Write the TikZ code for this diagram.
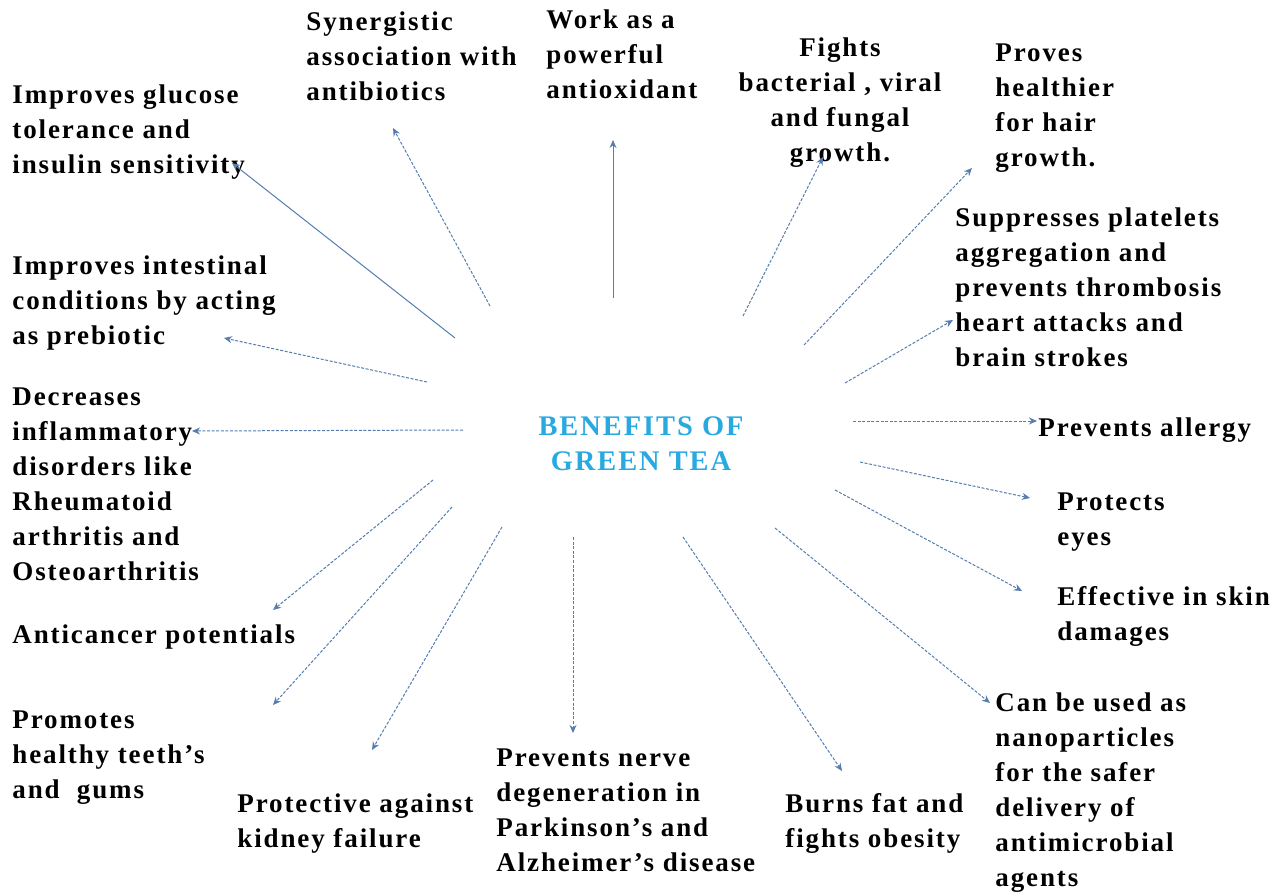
\documentclass[tikz,border=0pt]{standalone}
\usepackage{fontspec}
\setmainfont{Liberation Serif}[LetterSpace=7]
\usetikzlibrary{arrows.meta}
\definecolor{arr}{RGB}{85,125,175}
\definecolor{ttl}{RGB}{40,170,225}
\tikzset{
 lbl/.style={anchor=base west, align=left, inner sep=0pt, font=\fontsize{13.5}{17.5}\selectfont\bfseries},
 link/.style={draw=arr, line width=0.5pt, dash pattern=on 1.5pt off 0.8pt, -{Stealth[length=4pt,width=3.5pt]}},
 solidlink/.style={link, solid}
}
\begin{document}
\begin{tikzpicture}[x=0.5pt,y=-0.5pt]
\useasboundingbox (0,0) rectangle (1284,894);
% anchors are at the baseline of the LAST line of each label
\node[lbl, align=center, anchor=base, text=ttl, font=\fontsize{14.2}{17.5}\selectfont\bfseries] (c) at (641,470) {BENEFITS OF\\GREEN TEA};

\node[lbl] (n1) at (12,173) {Improves glucose\\tolerance and\\insulin sensitivity};
\node[lbl] (n2) at (306,100) {Synergistic\\association with\\antibiotics};
\node[lbl] (n3) at (546,98) {Work as a\\powerful\\antioxidant};
\node[lbl, align=center, anchor=base] (n4) at (840,161) {Fights\\bacterial , viral\\and fungal\\growth.};
\node[lbl] (n5) at (995,166) {Proves\\healthier\\for hair\\growth.};
\node[lbl] (n6) at (955,366) {Suppresses platelets\\aggregation and\\prevents thrombosis\\heart attacks and\\brain strokes};
\node[lbl] (n7) at (1038,436) {Prevents allergy};
\node[lbl] (n8) at (1057,545) {Protects\\eyes};
\node[lbl] (n9) at (1057,640) {Effective in skin\\damages};
\node[lbl] (n10) at (995,886) {Can be used as\\nanoparticles\\for the safer\\delivery of\\antimicrobial\\agents};
\node[lbl] (n11) at (785,847) {Burns fat and\\fights obesity};
\node[lbl] (n12) at (496,871) {Prevents nerve\\degeneration in\\Parkinson's and\\Alzheimer's disease};
\node[lbl] (n13) at (237,847) {Protective against\\kidney failure};
\node[lbl] (n14) at (12,798) {Promotes\\healthy teeth's\\and~~gums};
\node[lbl] (n15) at (12,643) {Anticancer potentials};
\node[lbl] (n16) at (12,580) {Decreases\\inflammatory\\disorders like\\Rheumatoid\\arthritis and\\Osteoarthritis};
\node[lbl] (n17) at (12,344) {Improves intestinal\\conditions by acting\\as prebiotic};

% start and end points of the connectors
\coordinate (s1) at (455,338);  \coordinate (e1) at (232,163);
\coordinate (s2) at (490,306);  \coordinate (e2) at (393,128);
\coordinate (s3) at (613,298);  \coordinate (e3) at (613,140);
\coordinate (s4) at (743,316);  \coordinate (e4) at (823,157);
\coordinate (s5) at (804,345);  \coordinate (e5) at (972,168);
\coordinate (s6) at (845,383);  \coordinate (e6) at (953,320);
\coordinate (s7) at (853,421);  \coordinate (e7) at (1037,421);
\coordinate (s8) at (860,462);  \coordinate (e8) at (1030,498);
\coordinate (s9) at (835,490);  \coordinate (e9) at (1022,591);
\coordinate (s10) at (775,528); \coordinate (e10) at (990,703);
\coordinate (s11) at (683,537); \coordinate (e11) at (842,771);
\coordinate (s12) at (573,537); \coordinate (e12) at (573,733);
\coordinate (s13) at (502,527); \coordinate (e13) at (372,750);
\coordinate (s14) at (452,507); \coordinate (e14) at (273,705);
\coordinate (s15) at (433,480); \coordinate (e15) at (273,610);
\coordinate (s16) at (463,430); \coordinate (e16) at (192,431);
\coordinate (s17) at (427,382); \coordinate (e17) at (224,338);

\draw[solidlink] (s1) -- (e1);
\draw[link] (s2) -- (e2);
\draw[solidlink] (s3) -- (e3);
\draw[link] (s4) -- (e4);
\draw[link] (s5) -- (e5);
\draw[link] (s6) -- (e6);
\draw[link] (s7) -- (e7);
\draw[link] (s8) -- (e8);
\draw[link] (s9) -- (e9);
\draw[link] (s10) -- (e10);
\draw[link] (s11) -- (e11);
\draw[link] (s12) -- (e12);
\draw[link] (s13) -- (e13);
\draw[link] (s14) -- (e14);
\draw[link] (s15) -- (e15);
\draw[link] (s16) -- (e16);
\draw[link] (s17) -- (e17);
\end{tikzpicture}
\end{document}
